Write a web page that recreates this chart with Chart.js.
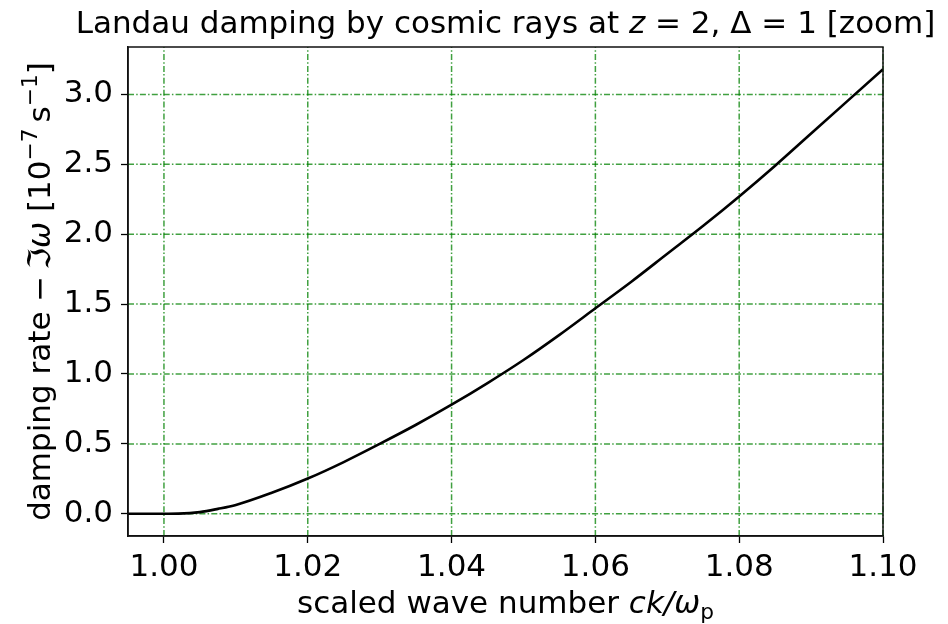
<!DOCTYPE html>
<html lang="en">
<head>
  <meta charset="UTF-8">
  <title>Landau damping</title>
  <script src="https://cdn.jsdelivr.net/npm/chart.js@4.4.0/dist/chart.umd.min.js"></script>
  <style>
    body { margin: 0; background: #fff; }
    #wrap { width: 948px; height: 624px; }
  </style>
</head>
<body>
  <div id="wrap"><canvas id="myChart" width="948" height="624"></canvas></div>
  <script>
    // scaled wave number ck/omega_p and damping rate in 1e-7 s^-1
    const kx = [0.995, 1.000, 1.002, 1.005, 1.0075, 1.010, 1.015, 1.020, 1.025, 1.030, 1.035, 1.040,
                1.045, 1.050, 1.055, 1.060, 1.065, 1.070, 1.075, 1.080, 1.085, 1.090, 1.095, 1.100]
    const rate = [0, 0, 0.001, 0.012, 0.035, 0.063, 0.15, 0.252, 0.37, 0.50, 0.635, 0.78,
                  0.935, 1.10, 1.28, 1.47, 1.66, 1.86, 2.06, 2.27, 2.49, 2.72, 2.95, 3.18]

    const xTicks = [1.00, 1.02, 1.04, 1.06, 1.08, 1.10]
    const yTicks = [0.0, 0.5, 1.0, 1.5, 2.0, 2.5, 3.0]

    const FONT = 'DejaVu Sans'
    const SIZE = 31
    const GRID_GREEN = 'rgba(0, 128, 0, 0.75)'

    // draw a run of text pieces: [text, style] where style is n / i / sup / sub
    function drawRich(ctx, segs, size, x, y, angle) {
      const fontOf = s => {
        let sz = (s === 'sup' || s === 'sub') ? size * 0.7 : size
        let it = s === 'i' ? 'italic ' : ''
        return it + sz + 'px "' + FONT + '"'
      }
      ctx.save()
      ctx.translate(x, y)
      ctx.rotate(angle)
      ctx.fillStyle = '#000'
      ctx.textBaseline = 'alphabetic'
      ctx.textAlign = 'left'
      let total = 0
      segs.forEach(([t, s]) => { ctx.font = fontOf(s); total += ctx.measureText(t).width })
      let cx = -total / 2
      segs.forEach(([t, s]) => {
        ctx.font = fontOf(s)
        let dy = s === 'sup' ? -0.42 * size : (s === 'sub' ? 0.2 * size : 0)
        ctx.fillText(t, cx, dy)
        cx += ctx.measureText(t).width
      })
      ctx.restore()
    }

    // dash-dot grid under the curve
    const dashGrid = {
      id: 'dashGrid',
      beforeDatasetsDraw(chart) {
        const ctx = chart.ctx
        const a = chart.chartArea
        const xs = chart.scales.x, ys = chart.scales.y
        ctx.save()
        ctx.strokeStyle = GRID_GREEN
        ctx.lineWidth = 1.5
        ctx.setLineDash([6, 2.2, 1.5, 2.2])
        xTicks.forEach(v => {
          let px = xs.getPixelForValue(v)
          ctx.beginPath(); ctx.moveTo(px, a.bottom); ctx.lineTo(px, a.top); ctx.stroke()
        })
        yTicks.forEach(v => {
          let py = ys.getPixelForValue(v)
          ctx.beginPath(); ctx.moveTo(a.left, py); ctx.lineTo(a.right, py); ctx.stroke()
        })
        ctx.restore()
      }
    }

    const decorations = {
      id: 'decorations',
      afterDraw(chart) {
        const ctx = chart.ctx
        const a = chart.chartArea
        // frame round the axes
        ctx.save()
        ctx.setLineDash([])
        ctx.strokeStyle = '#111'
        ctx.lineWidth = 1.5
        ctx.strokeRect(a.left, a.top, a.right - a.left, a.bottom - a.top)
        ctx.restore()

        const mid = (a.left + a.right) / 2
        drawRich(ctx, [['Landau damping by cosmic rays at ', 'n'], ['z', 'i'],
                       [' = 2, \u0394 = 1 [zoom]', 'n']], SIZE, mid, 33, 0)
        drawRich(ctx, [['scaled wave number ', 'n'], ['ck/\u03c9', 'i'], ['p', 'sub']],
                 SIZE, mid, 613, 0)
        drawRich(ctx, [['damping rate \u2212\u2009\u2111', 'n'], ['\u03c9', 'i'], [' [10', 'n'],
                       ['\u22127', 'sup'], ['\u2009s', 'n'], ['\u22121', 'sup'], [']', 'n']],
                 SIZE, 50, (a.top + a.bottom) / 2, -Math.PI / 2)
      }
    }

    // only the black outward ticks come from the scales
    function gridStyle() {
      return {
        drawOnChartArea: false,
        tickColor: '#000',
        tickLength: 7,
        tickWidth: 1.3,
        tickBorderDash: []
      }
    }
    function borderStyle() {
      return { display: true, color: '#111', width: 1.5 }
    }

    let ctx = document.getElementById('myChart').getContext('2d')
    let myChart = new Chart(ctx, {
      type: 'line',
      data: {
        datasets: [{
          data: kx.map((k, i) => ({ x: k, y: rate[i] })),
          borderColor: '#000',
          borderWidth: 2.6,
          pointRadius: 0,
          cubicInterpolationMode: 'monotone',
          fill: false
        }]
      },
      options: {
        responsive: false,
        animation: false,
        layout: { padding: { top: 47, right: 65, left: 0, bottom: 0 } },
        plugins: { legend: { display: false }, tooltip: { enabled: false }, title: { display: false } },
        scales: {
          x: {
            type: 'linear',
            min: 0.995,
            max: 1.10,
            afterBuildTicks: s => { s.ticks = xTicks.map(v => ({ value: v })) },
            afterFit: s => { s.height = 88 },
            ticks: {
              color: '#000',
              padding: 6,
              maxRotation: 0,
              font: { family: FONT, size: SIZE },
              callback: v => v.toFixed(2)
            },
            grid: gridStyle(),
            border: borderStyle()
          },
          y: {
            min: -0.159,
            max: 3.339,
            afterBuildTicks: s => { s.ticks = yTicks.map(v => ({ value: v })) },
            afterFit: s => { s.width = 128 },
            ticks: {
              color: '#000',
              padding: 8,
              font: { family: FONT, size: SIZE },
              callback: v => v.toFixed(1)
            },
            grid: gridStyle(),
            border: borderStyle()
          }
        }
      },
      plugins: [dashGrid, decorations]
    })
  </script>
</body>
</html>
